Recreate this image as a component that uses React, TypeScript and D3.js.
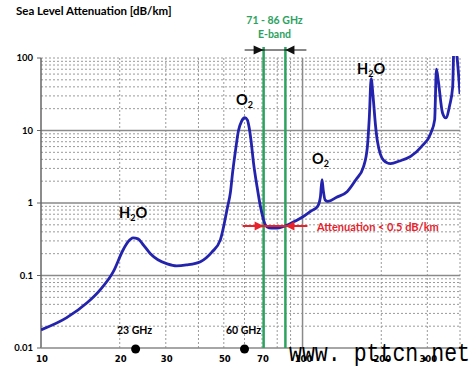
import React from "react";
import * as d3 from "d3";

// attenuation curve (GHz, dB/km)
const freq = [
  10, 12.5, 15, 16.8, 18.9, 20.6, 21.5, 22.5, 23.5, 24.5, 26.2, 28, 30.4, 33, 36, 40.7, 45, 48.5,
  51.7, 53, 54, 55.5, 56.9, 58.5, 60.2, 61.5, 62.5, 63.5, 65, 67, 69, 71, 73, 76, 80, 84, 88,
  92.5, 100, 108, 114, 117, 118.7, 120, 122, 125, 135, 148, 160, 171, 177, 180, 183, 186, 190,
  193, 204, 217, 235, 259, 285, 309, 320, 325, 330, 343, 353, 365, 375, 380, 390, 400,
];
const atten = [
  0.0178, 0.026, 0.042, 0.063, 0.113, 0.225, 0.29, 0.33, 0.32, 0.27, 0.2, 0.165, 0.145, 0.136,
  0.14, 0.155, 0.21, 0.31, 0.89, 1.4, 2.6, 5.5, 10, 13.5, 15, 14, 11, 7.4, 3.5, 1.68, 0.9, 0.58,
  0.47, 0.45, 0.45, 0.47, 0.5, 0.55, 0.64, 0.78, 0.89, 1.2, 2.1, 1.5, 1.1, 1.05, 1.2, 1.43, 2.1,
  3.16, 6, 15, 52, 30, 12, 7.4, 3.9, 3.5, 3.8, 4.4, 6, 9.1, 14, 70, 50, 17.4, 14.9, 22, 40, 200,
  100, 32,
];

const yTicks = [100, 10, 1, 0.1, 0.01];
const yTickLabels = ["100", "10", "1", "0.1", "0.01"];
const xTicks = [10, 20, 30, 50, 70, 100, 200, 300];
const xTickLabels = ["10", "20", "30", "50", "70", "100", "200", "300"];
const xMinor = [20, 30, 40, 50, 60, 70, 80, 90, 200, 300, 400];
const markers = [23, 60];
const markerLabels = ["23 GHz", "60 GHz"];
const band = [71, 86];

const W = 473;
const H = 371;
const left = 41, right = 460, top = 58, bottom = 348;

const x = d3.scaleLog().domain([10, 400]).range([left, right]);
const y = d3.scaleLog().domain([0.01, 100]).range([bottom, top]);

const blue = "#2323ad";
const green = "#2ca25f";
const red = "#e8212b";
const sans = "Lato, 'Liberation Sans', Arial, sans-serif";

export default function App() {
  const pts = freq.map((f, i) => [f, atten[i]] as [number, number]);
  const line = d3
    .line<[number, number]>()
    .x((d) => x(d[0]))
    .y((d) => y(d[1]))
    .curve(d3.curveMonotoneX);

  const yMinor: number[] = [];
  for (let e = -2; e < 2; e++) {
    for (let k = 2; k <= 9; k++) yMinor.push(k * Math.pow(10, e));
  }

  return (
    <svg
      width={W}
      height={H}
      style={{ position: "absolute", left: 0, top: 0, background: "#fff" }}
      fontFamily={sans}
    >
      <defs>
        <clipPath id="plot">
          <rect x={left} y={top - 2} width={right - left} height={bottom - top + 2} />
        </clipPath>
      </defs>

      <text x={16} y={15} fontSize={11.5} fontWeight="bold">
        Sea Level Attenuation [dB/km]
      </text>

      {/* grid */}
      {yMinor.map((v) => (
        <line key={"hy" + v} x1={left} x2={right} y1={y(v)} y2={y(v)} stroke="#9a9a9a" strokeWidth={1} strokeDasharray="2,2" />
      ))}
      <line x1={left} x2={right} y1={top} y2={top} stroke="#9a9a9a" strokeDasharray="2,2" />
      {xMinor.map((f) => (
        <line key={"vx" + f} x1={x(f)} x2={x(f)} y1={top} y2={bottom} stroke="#9a9a9a" strokeWidth={1} strokeDasharray="2,2" />
      ))}
      {[10, 1, 0.1].map((v) => (
        <line key={"my" + v} x1={left} x2={right} y1={y(v)} y2={y(v)} stroke="#8a8a8a" strokeWidth={1.5} />
      ))}
      <line x1={x(100)} x2={x(100)} y1={top} y2={bottom} stroke="#8a8a8a" strokeWidth={1.5} />

      {/* axes */}
      <line x1={left} x2={left} y1={top} y2={bottom} stroke="#666" strokeWidth={1.5} />
      <line x1={left} x2={right} y1={bottom} y2={bottom} stroke="#888" strokeWidth={1.5} />
      {yTicks.map((v, i) => (
        <g key={"yt" + v}>
          <line x1={left - 4} x2={left} y1={y(v)} y2={y(v)} stroke="#666" />
          <text x={33} y={y(v) + 3} fontSize={9.5} fontWeight="bold" textAnchor="end">
            {yTickLabels[i]}
          </text>
        </g>
      ))}
      {xTicks.map((f, i) => (
        <text key={"xt" + f} x={x(f) + 1} y={362} fontSize={8.5} fontWeight="bold" textAnchor="middle" fontFamily="'DejaVu Sans', sans-serif">
          {xTickLabels[i]}
        </text>
      ))}

      {/* E-band lines */}
      {band.map((f) => (
        <line key={"b" + f} x1={x(f)} x2={x(f)} y1={47} y2={bottom} stroke={green} strokeWidth={2.5} />
      ))}

      {/* curve */}
      <path d={line(pts) ?? ""} fill="none" stroke={blue} strokeWidth={2.8} clipPath="url(#plot)" strokeLinejoin="round" />

      {/* E-band annotation */}
      <text x={(x(band[0]) + x(band[1])) / 2} y={24} fontSize={10.5} fontWeight="bold" fill={green} textAnchor="middle">
        71 - 86 GHz
      </text>
      <text x={(x(band[0]) + x(band[1])) / 2} y={38} fontSize={10.5} fontWeight="bold" fill={green} textAnchor="middle">
        E-band
      </text>
      <line x1={x(band[0]) - 19} x2={x(band[1]) + 21} y1={50} y2={50} stroke="#111" strokeWidth={1} />
      <path d={`M${x(band[0])},50 L${x(band[0]) - 10},45.5 L${x(band[0]) - 10},54.5 Z`} fill="#111" />
      <path d={`M${x(band[1])},50 L${x(band[1]) + 9},45.5 L${x(band[1]) + 9},54.5 Z`} fill="#111" />

      {/* attenuation arrows */}
      <line x1={x(band[0]) - 21} x2={x(band[1]) + 22} y1={226} y2={226} stroke={red} strokeWidth={2} />
      <path d={`M${x(band[0])},226 L${x(band[0]) - 9},221.5 L${x(band[0]) - 9},230.5 Z`} fill={red} />
      <path d={`M${x(band[1])},226 L${x(band[1]) + 9},221.5 L${x(band[1]) + 9},230.5 Z`} fill={red} />
      <text x={317} y={231} fontSize={11} fontWeight="bold" fill={red}>
        Attenuation &lt; 0.5 dB/km
      </text>

      {/* molecule labels */}
      <text x={119} y={218} fontSize={14.5} fontWeight="bold">
        H<tspan fontSize={9} dy={3}>2</tspan><tspan dy={-3}>O</tspan>
      </text>
      <text x={236} y={105} fontSize={14.5} fontWeight="bold">
        O<tspan fontSize={9} dy={3}>2</tspan>
      </text>
      <text x={312} y={164} fontSize={14.5} fontWeight="bold">
        O<tspan fontSize={9} dy={3}>2</tspan>
      </text>
      <text x={357} y={74} fontSize={14.5} fontWeight="bold">
        H<tspan fontSize={9} dy={3}>2</tspan><tspan dy={-3}>O</tspan>
      </text>

      {/* frequency markers */}
      {markers.map((f, i) => (
        <g key={"m" + f}>
          <circle cx={x(f)} cy={bottom + 1} r={4.5} fill="#000" />
          <text x={x(f) - 1} y={334} fontSize={10.5} fontWeight="bold" textAnchor="middle">
            {markerLabels[i]}
          </text>
        </g>
      ))}

      {/* watermark */}
      <text x={289} y={361} fontSize={25} fontFamily="'Liberation Mono', 'DejaVu Sans Mono', monospace" textLength={181} lengthAdjust="spacingAndGlyphs">
        www. pttcn.net
      </text>
    </svg>
  );
}
